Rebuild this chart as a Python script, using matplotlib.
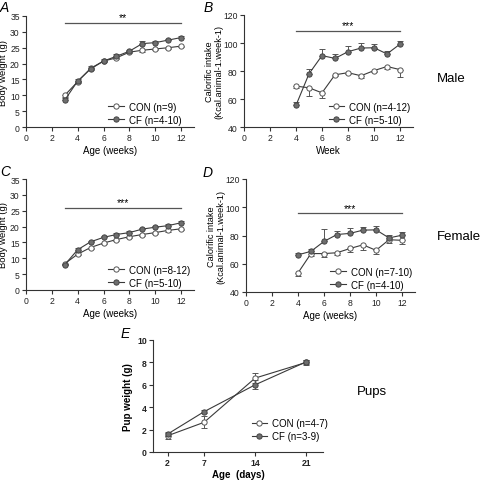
import matplotlib
matplotlib.use("Agg")
import matplotlib.pyplot as plt
import numpy as np

plt.rcParams['font.family'] = ['Liberation Sans', 'DejaVu Sans']

# A - male body weight
wk_a = [3, 4, 5, 6, 7, 8, 9, 10, 11, 12]
a_con = [10.0, 14.3, 18.5, 20.8, 21.8, 23.6, 24.2, 24.6, 25.0, 25.5]
a_con_err = [0.4, 0.5, 0.6, 0.4, 0.4, 0.4, 0.4, 0.4, 0.4, 0.4]
a_cf = [8.5, 14.5, 18.3, 20.8, 22.3, 23.9, 26.3, 26.6, 27.4, 28.2]
a_cf_err = [0.5, 0.6, 0.9, 0.5, 0.6, 0.5, 0.9, 0.6, 0.5, 0.5]

# B - male calorific intake
wk_b = [4, 5, 6, 7, 8, 9, 10, 11, 12]
b_con = [69.2, 68.0, 64.4, 77.3, 78.8, 76.6, 80.3, 83.2, 81.0]
b_con_err = [1.5, 6.0, 3.5, 1.2, 1.0, 1.5, 1.2, 1.5, 5.5]
b_cf = [55.5, 78.0, 91.0, 89.0, 93.8, 96.4, 96.6, 92.2, 99.2]
b_cf_err = [2.5, 3.5, 4.5, 3.5, 4.0, 3.5, 2.5, 2.0, 2.5]

# C - female body weight
wk_c = [3, 4, 5, 6, 7, 8, 9, 10, 11, 12]
c_con = [8.3, 11.3, 13.4, 14.8, 15.9, 16.8, 17.5, 18.1, 18.8, 19.3]
c_con_err = [0.3, 0.4, 0.4, 0.4, 0.4, 0.4, 0.4, 0.4, 0.4, 0.4]
c_cf = [8.0, 12.7, 15.2, 16.6, 17.5, 18.1, 19.2, 19.8, 20.3, 21.2]
c_cf_err = [0.3, 0.4, 0.4, 0.4, 0.4, 0.4, 0.4, 0.4, 0.4, 0.4]

# D - female calorific intake
wk_d = [4, 5, 6, 7, 8, 9, 10, 11, 12]
d_con = [53.5, 67.2, 67.2, 67.8, 70.8, 73.4, 69.5, 77.0, 76.6]
d_con_err = [2.5, 1.5, 2.5, 1.5, 2.5, 3.5, 2.5, 2.0, 2.5]
d_cf = [66.3, 68.8, 75.8, 80.7, 81.5, 83.8, 84.0, 78.3, 80.2]
d_cf_err = [1.5, 1.5, 8.5, 2.5, 4.0, 2.5, 2.5, 2.0, 2.5]

# E - pups
day_e = [2, 7, 14, 21]
e_con = [1.45, 2.65, 6.6, 8.0]
e_con_err = [0.25, 0.55, 0.45, 0.25]
e_cf = [1.6, 3.6, 6.0, 8.05]
e_cf_err = [0.15, 0.15, 0.4, 0.15]

LINE = '#3a3a3a'
FILL = '#6e6e6e'
AXC = '#333333'


def draw(ax, x, con, con_err, cf, cf_err, con_lab, cf_lab, one_sided=True):
    if one_sided:
        z = [0] * len(x)
        con_e = [con_err, z]
        cf_e = [z, cf_err]
    else:
        con_e, cf_e = con_err, cf_err
    ax.errorbar(x, con, yerr=con_e, color=LINE, lw=0.8, marker='o', ms=3.8,
                mfc='white', mec='#555555', mew=0.7, capsize=2, elinewidth=0.7,
                capthick=0.7, ecolor='#555555', label=con_lab, zorder=3)
    ax.errorbar(x, cf, yerr=cf_e, color=LINE, lw=0.8, marker='o', ms=3.8,
                mfc=FILL, mec='#444444', mew=0.7, capsize=2, elinewidth=0.7,
                capthick=0.7, ecolor='#555555', label=cf_lab, zorder=4)


def style(ax, bold=False):
    for s in ['top', 'right']:
        ax.spines[s].set_visible(False)
    for s in ['left', 'bottom']:
        ax.spines[s].set_color(AXC)
        ax.spines[s].set_linewidth(0.8)
    ax.tick_params(direction='out', length=3, width=0.8, color=AXC,
                   labelsize=6.2, pad=1.5, labelcolor='#222222')
    if bold:
        for t in ax.get_xticklabels() + ax.get_yticklabels():
            t.set_fontweight('bold')


def legend(ax, x0, y0):
    h, l = ax.get_legend_handles_labels()
    h = [hh[0] for hh in h]
    ax.legend(h, l, loc='lower left', bbox_to_anchor=(x0, y0), frameon=False,
              fontsize=7, handlelength=1.6, handletextpad=0.5, labelspacing=0.3,
              borderpad=0, borderaxespad=0)


fig = plt.figure(figsize=(4.8, 4.81), dpi=100)

# panel A
ax = fig.add_axes([26/480, 1-128/481, 168/480, 111/481])
draw(ax, wk_a, a_con, a_con_err, a_cf, a_cf_err, 'CON (n=9)', 'CF (n=4-10)')
ax.set_xlim(0, 13)
ax.set_ylim(0, 35)
ax.set_xticks(range(0, 13, 2))
ax.set_yticks(range(0, 36, 5))
ax.plot([3, 12], [32.8, 32.8], color='#555555', lw=0.9)
ax.text(7.5, 33.0, '**', ha='center', va='bottom', fontsize=7.5)
ax.set_ylabel('Body weight (g)', fontsize=6.8)
ax.set_xlabel('Age (weeks)', fontsize=7, labelpad=2)
ax.yaxis.set_label_coords(-0.11, 0.5)
style(ax)
legend(ax, 0.49, 0.02)

# panel B
ax = fig.add_axes([244/480, 1-128/481, 169/480, 112/481])
draw(ax, wk_b, b_con, b_con_err, b_cf, b_cf_err, 'CON (n=4-12)', 'CF (n=5-10)')
ax.set_xlim(0, 13)
ax.set_ylim(40, 120)
ax.set_xticks(range(0, 13, 2))
ax.set_yticks(range(40, 121, 20))
ax.plot([4, 12], [108.6, 108.6], color='#555555', lw=0.9)
ax.text(8, 108.9, '***', ha='center', va='bottom', fontsize=7.5)
ax.set_ylabel('Calorific intake\n(Kcal.animal-1.week-1)', fontsize=6.6,
              linespacing=1.15)
ax.yaxis.set_label_coords(-0.12, 0.5)
ax.set_xlabel('Week', fontsize=7, labelpad=2)
style(ax)
legend(ax, 0.5, 0.02)

# panel C
ax = fig.add_axes([26/480, 1-291/481, 168/480, 111/481])
draw(ax, wk_c, c_con, c_con_err, c_cf, c_cf_err, 'CON (n=8-12)', 'CF (n=5-10)')
ax.set_xlim(0, 13)
ax.set_ylim(0, 35)
ax.set_xticks(range(0, 13, 2))
ax.set_yticks(range(0, 36, 5))
ax.plot([3, 12], [25.8, 25.8], color='#555555', lw=0.9)
ax.text(7.5, 26.0, '***', ha='center', va='bottom', fontsize=7.5)
ax.set_ylabel('Body weight (g)', fontsize=6.8)
ax.yaxis.set_label_coords(-0.11, 0.5)
ax.set_xlabel('Age (weeks)', fontsize=7, labelpad=2)
style(ax)
legend(ax, 0.49, 0.02)

# panel D
ax = fig.add_axes([246/480, 1-293/481, 169/480, 113/481])
draw(ax, wk_d, d_con, d_con_err, d_cf, d_cf_err, 'CON (n=7-10)', 'CF (n=4-10)')
ax.set_xlim(0, 13)
ax.set_ylim(40, 120)
ax.set_xticks(range(0, 13, 2))
ax.set_yticks(range(40, 121, 20))
ax.plot([4, 12], [95.6, 95.6], color='#555555', lw=0.9)
ax.text(8, 95.9, '***', ha='center', va='bottom', fontsize=7.5)
ax.set_ylabel('Calorific intake\n(Kcal.animal-1.week-1)', fontsize=6.6,
              linespacing=1.15)
ax.yaxis.set_label_coords(-0.12, 0.5)
ax.set_xlabel('Age (weeks)', fontsize=7, labelpad=2)
style(ax)
legend(ax, 0.5, 0.02)

# panel E
ax = fig.add_axes([153/480, 1-453/481, 170/480, 112/481])
draw(ax, day_e, e_con, e_con_err, e_cf, e_cf_err, 'CON (n=4-7)', 'CF (n=3-9)',
     one_sided=False)
ax.set_xlim(0, 23.3)
ax.set_ylim(0, 10)
ax.set_xticks(day_e)
ax.set_yticks(range(0, 11, 2))
ax.set_ylabel('Pup weight (g)', fontsize=7, labelpad=3, fontweight='bold')
ax.set_xlabel('Age  (days)', fontsize=7, labelpad=1, fontweight='bold')
style(ax, bold=True)
legend(ax, 0.58, 0.095)

# panel letters and group labels
for lab, x, y in [('A', 0, 8), ('B', 204, 8), ('C', 0, 172), ('D', 203, 173),
                  ('E', 121, 334)]:
    fig.text(x/480, 1-y/481, lab, fontsize=10, style='italic', va='center')
fig.text(437/480, 1-79/481, 'Male', fontsize=9.5, va='center')
fig.text(437/480, 1-237/481, 'Female', fontsize=9.5, va='center')
fig.text(357/480, 1-392/481, 'Pups', fontsize=9.5, va='center')

fig.savefig('out.png', dpi=100)
